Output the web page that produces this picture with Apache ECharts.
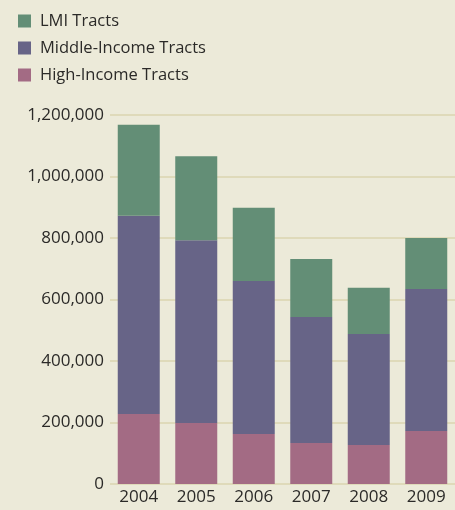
<!DOCTYPE html>
<html>
<head>
<meta charset="utf-8">
<script src="https://cdn.jsdelivr.net/npm/echarts@6/dist/echarts.min.js"></script>
<style>
  html, body { margin: 0; padding: 0; background: #ecead9; }
  #chart { width: 455px; height: 510px; }
</style>
</head>
<body>
<div id="chart"></div>
<script>
const years = ["2004", "2005", "2006", "2007", "2008", "2009"];
const highIncome = [228000, 198000, 163000, 133000, 127000, 172000];
const middleIncome = [644000, 595000, 497000, 410000, 361000, 462000];
const lmi = [296000, 273000, 238000, 189000, 150000, 166000];
const yTicks = [0, 200000, 400000, 600000, 800000, 1000000, 1200000];

const font = "'Open Sans', 'Noto Sans', sans-serif";
const textColor = "#2b2a28";

const chart = echarts.init(document.getElementById("chart"));

function bar(name, data, color) {
  return {
    name,
    type: "bar",
    stack: "total",
    data,
    barWidth: 42,
    itemStyle: { color },
  };
}

chart.setOption({
  backgroundColor: "#ecead9",
  animation: false,
  textStyle: { fontFamily: font },
  legend: {
    orient: "vertical",
    left: 13,
    top: 7,
    itemWidth: 13,
    itemHeight: 13,
    itemGap: 9,
    icon: "rect",
    textStyle: {
      fontFamily: font,
      fontSize: 16.5,
      lineHeight: 18,
      color: textColor,
      padding: [0, 0, 0, 4],
    },
    data: ["LMI Tracts", "Middle-Income Tracts", "High-Income Tracts"],
  },
  grid: {
    left: 110,
    right: -2,
    top: 115,
    bottom: 26,
  },
  xAxis: {
    type: "category",
    data: years,
    axisLine: { show: false },
    axisTick: { show: false },
    axisLabel: { color: textColor, fontSize: 17, fontFamily: font, margin: 5 },
  },
  yAxis: {
    type: "value",
    min: yTicks[0],
    max: yTicks[yTicks.length - 1],
    interval: 200000,
    axisLine: { show: false },
    axisTick: { show: false },
    axisLabel: {
      color: textColor,
      fontSize: 17,
      fontFamily: font,
      margin: 6,
      formatter: (v) => v.toLocaleString("en-US"),
    },
    splitLine: { lineStyle: { color: "#dfdaba", width: 2 } },
  },
  series: [
    bar("High-Income Tracts", highIncome, "#a36b84"),
    bar("Middle-Income Tracts", middleIncome, "#676487"),
    bar("LMI Tracts", lmi, "#638e76"),
  ],
});
</script>
</body>
</html>
